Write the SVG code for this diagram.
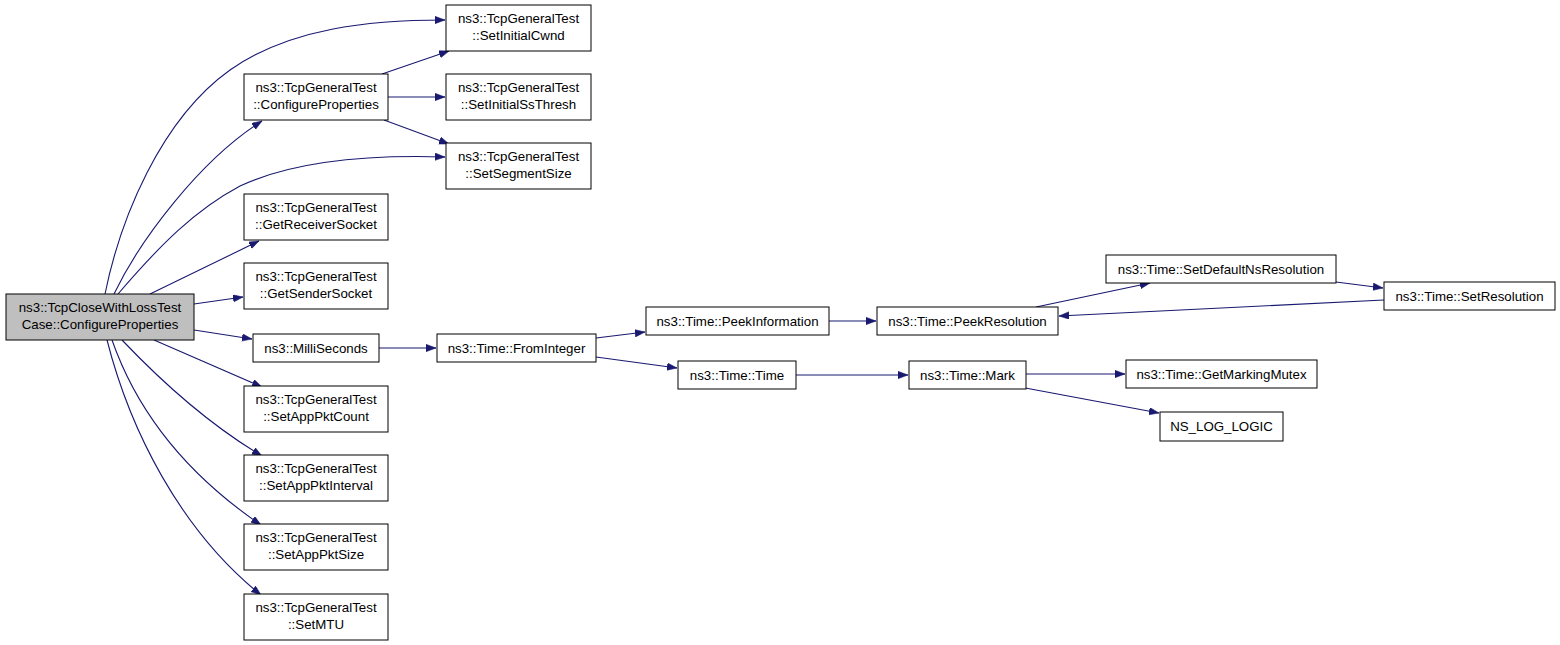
<svg xmlns="http://www.w3.org/2000/svg" width="1560" height="645" viewBox="0 0 1560 645">
<defs>
<style>
.n rect{fill:#fff;stroke:#000;stroke-width:1}
.n.root rect{fill:#bfbfbf}
.n text{font-family:"Liberation Sans",Arial,sans-serif;font-size:13.3px;text-anchor:middle;fill:#000}
.e path{fill:none;stroke:#191970;stroke-width:1.1;marker-end:url(#a)}
</style>
<marker id="a" markerWidth="11" markerHeight="8" refX="10" refY="3.7" orient="auto" markerUnits="userSpaceOnUse">
<path d="M0,0 L10,3.7 L0,7.4 z" fill="#191970" stroke="#191970" stroke-width="0.5"/>
</marker>
</defs>
<rect width="1560" height="645" fill="#fff"/>
<g id="edges" class="e">
<path d="M105,294 C120,220 160,120 230,70 C290,28 370,20 445,20"/>
<path d="M114,294 C140,240 200,160 262,121"/>
<path d="M118,294 C160,245 195,210 240,186 C300,158 380,155 445,157"/>
<path d="M150,294 L259,241"/>
<path d="M194,304 L243,297"/>
<path d="M194,330 L252,339"/>
<path d="M154,340 L262,387"/>
<path d="M122,340 C160,380 210,425 262,456"/>
<path d="M112,340 C140,420 195,480 261,525"/>
<path d="M107,340 C130,430 180,530 261,595"/>
<path d="M382,74 L449,51"/>
<path d="M388,97 L445,97"/>
<path d="M384,120 L449,144"/>
<path d="M379,348 L436,348"/>
<path d="M596,338 L645,332"/>
<path d="M596,357 L677,368"/>
<path d="M829,321 L876,321"/>
<path d="M1036,307 L1150,283"/>
<path d="M1336,282 L1383,288"/>
<path d="M1384,300 L1059,316"/>
<path d="M796,375 L908,375"/>
<path d="M1026,374 L1125,374"/>
<path d="M1020,387 L1159,413"/>
</g>
<g id="n_root" class="n root"><rect x="6" y="294" width="188" height="46"/><text x="100" y="312">ns3::TcpCloseWithLossTest</text><text x="100" y="329">Case::ConfigureProperties</text></g>
<g id="n_setinitialcwnd" class="n"><rect x="446" y="5" width="145" height="46"/><text x="518.5" y="23">ns3::TcpGeneralTest</text><text x="518.5" y="40">::SetInitialCwnd</text></g>
<g id="n_genconfigure" class="n"><rect x="244" y="74" width="144" height="46"/><text x="316" y="92">ns3::TcpGeneralTest</text><text x="316" y="109">::ConfigureProperties</text></g>
<g id="n_setinitialssthresh" class="n"><rect x="446" y="74" width="145" height="46"/><text x="518.5" y="92">ns3::TcpGeneralTest</text><text x="518.5" y="109">::SetInitialSsThresh</text></g>
<g id="n_setsegmentsize" class="n"><rect x="446" y="143" width="145" height="46"/><text x="518.5" y="161">ns3::TcpGeneralTest</text><text x="518.5" y="178">::SetSegmentSize</text></g>
<g id="n_getreceiversocket" class="n"><rect x="244" y="194" width="144" height="46"/><text x="316" y="212">ns3::TcpGeneralTest</text><text x="316" y="229">::GetReceiverSocket</text></g>
<g id="n_getsendersocket" class="n"><rect x="244" y="263" width="144" height="46"/><text x="316" y="281">ns3::TcpGeneralTest</text><text x="316" y="298">::GetSenderSocket</text></g>
<g id="n_milliseconds" class="n"><rect x="253" y="334" width="126" height="28"/><text x="316" y="352.5">ns3::MilliSeconds</text></g>
<g id="n_setapppktcount" class="n"><rect x="244" y="386" width="144" height="46"/><text x="316" y="404">ns3::TcpGeneralTest</text><text x="316" y="421">::SetAppPktCount</text></g>
<g id="n_setapppktinterval" class="n"><rect x="244" y="455" width="144" height="46"/><text x="316" y="473">ns3::TcpGeneralTest</text><text x="316" y="490">::SetAppPktInterval</text></g>
<g id="n_setapppktsize" class="n"><rect x="244" y="524" width="144" height="46"/><text x="316" y="542">ns3::TcpGeneralTest</text><text x="316" y="559">::SetAppPktSize</text></g>
<g id="n_setmtu" class="n"><rect x="244" y="594" width="144" height="46"/><text x="316" y="612">ns3::TcpGeneralTest</text><text x="316" y="629">::SetMTU</text></g>
<g id="n_frominteger" class="n"><rect x="437" y="334" width="159" height="28"/><text x="516.5" y="352.5">ns3::Time::FromInteger</text></g>
<g id="n_peekinformation" class="n"><rect x="646" y="307" width="183" height="28"/><text x="737.5" y="325.5">ns3::Time::PeekInformation</text></g>
<g id="n_peekresolution" class="n"><rect x="877" y="307" width="181" height="28"/><text x="967.5" y="325.5">ns3::Time::PeekResolution</text></g>
<g id="n_setdefaultnsresolution" class="n"><rect x="1106" y="255" width="230" height="28"/><text x="1221" y="273.5">ns3::Time::SetDefaultNsResolution</text></g>
<g id="n_setresolution" class="n"><rect x="1384" y="282" width="171" height="28"/><text x="1469.5" y="300.5">ns3::Time::SetResolution</text></g>
<g id="n_time" class="n"><rect x="678" y="361" width="118" height="28"/><text x="737" y="379.5">ns3::Time::Time</text></g>
<g id="n_mark" class="n"><rect x="909" y="361" width="117" height="28"/><text x="967.5" y="379.5">ns3::Time::Mark</text></g>
<g id="n_getmarkingmutex" class="n"><rect x="1126" y="360" width="191" height="28"/><text x="1221.5" y="378.5">ns3::Time::GetMarkingMutex</text></g>
<g id="n_ns_log_logic" class="n"><rect x="1160" y="412" width="123" height="29"/><text x="1221.5" y="431">NS_LOG_LOGIC</text></g>
</svg>
